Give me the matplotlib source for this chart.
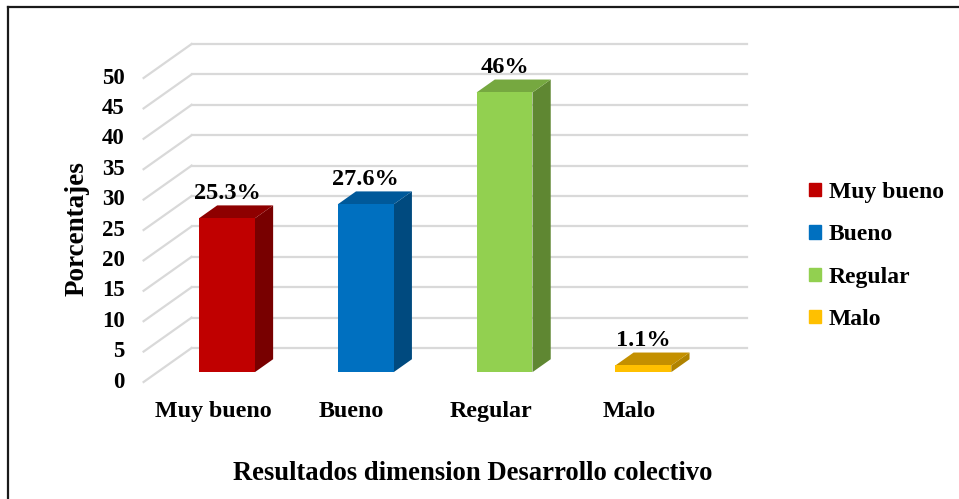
import matplotlib
matplotlib.use('Agg')
import matplotlib.pyplot as plt
import matplotlib.patches as mpatches
from matplotlib.lines import Line2D
import numpy as np

plt.rcParams['font.family'] = ['Liberation Serif', 'DejaVu Serif']
plt.rcParams['font.weight'] = 'bold'

# ── Datos ───────────────────────────────────────────────────────────────────
categorias = ['Muy bueno', 'Bueno', 'Regular', 'Malo']
valores = [25.3, 27.6, 46.0, 1.1]
etiquetas = ['25.3%', '27.6%', '46%', '1.1%']
ticks = np.arange(0, 51, 5)

col_frente = ['#C00000', '#0070C0', '#92D050', '#FFC000']
col_arriba = ['#8E0000', '#00599A', '#76A840', '#C49000']
col_lado = ['#780000', '#004A7F', '#5F8732', '#B08300']

W, H = 959, 499
fig = plt.figure(figsize=(W / 100, H / 100), dpi=100)
ax = fig.add_axes([0, 0, 1, 1])
ax.axis('off')

# escala: categoria i (frente) en px 213 + 138.8*i, valor v en px 382 - 6.08*v
PX_X, PX_Y = 138.8, 6.08
ax.set_xlim(-213 / PX_X, (W - 213) / PX_X)
ax.set_ylim(-(H - 382) / PX_Y, 382 / PX_Y)

# profundidad 3D (z=0 frente, z=1 pared del fondo)
DX, DY = 48 / PX_X, 34 / PX_Y


def proj(x, v, z):
    return x + z * DX, v + z * DY


x0, x1 = -0.5, len(categorias) - 0.5

# ── Pared del fondo y lateral ──────────────────────────────────────────────
grid_c = '#D9D9D9'
for t in ticks:
    a = proj(x0, t, 1)
    b = proj(x1, t, 1)
    ax.plot([a[0], b[0]], [a[1], b[1]], color=grid_c, lw=1.6, zorder=1)
    c = proj(x0, t, 0)
    ax.plot([c[0], a[0]], [c[1], a[1]], color=grid_c, lw=1.6, zorder=1)
    ax.text(c[0] - 0.135, c[1], str(t), ha='right', va='center', fontsize=16.5)

# ── Barras 3D ───────────────────────────────────────────────────────────────
ancho = 0.403
z1, z2 = 0.29, 0.67
for i, v in enumerate(valores):
    l, r = i - ancho / 2, i + ancho / 2
    fl = proj(l, 0, z1); fr = proj(r, 0, z1)
    tl = proj(l, v, z1); tr = proj(r, v, z1)
    bl = proj(l, v, z2); br = proj(r, v, z2); bb = proj(r, 0, z2)
    # lado derecho
    ax.fill([fr[0], bb[0], br[0], tr[0]], [fr[1], bb[1], br[1], tr[1]],
            color=col_lado[i], lw=0, zorder=3)
    # tapa
    ax.fill([tl[0], tr[0], br[0], bl[0]], [tl[1], tr[1], br[1], bl[1]],
            color=col_arriba[i], lw=0, zorder=3)
    # frente
    ax.fill([fl[0], fr[0], tr[0], tl[0]], [fl[1], fr[1], tr[1], tl[1]],
            color=col_frente[i], lw=0, zorder=4)
    # etiqueta de datos
    ex = proj(i, v, z1)[0]
    ey = proj(i, v, z2)[1]
    ax.text(ex, ey + 0.3, etiquetas[i], ha='center', va='bottom', fontsize=17.5, zorder=5)
    # categoria
    ax.text(i, -4.8, categorias[i], ha='center', va='center', fontsize=17.3)

# ── Titulos ────────────────────────────────────────────────────────────────
fig.text(473 / W, 1 - 474 / H, 'Resultados dimension Desarrollo colectivo',
         ha='center', va='center', fontsize=19.2)
fig.text(77 / W, 1 - 229 / H, 'Porcentajes', rotation=90,
         ha='center', va='center', fontsize=19.5)

# ── Leyenda ────────────────────────────────────────────────────────────────
handles = [mpatches.Patch(color=c, label=n) for n, c in zip(categorias, col_frente)]
ax.legend(handles=handles, loc='center left', bbox_to_anchor=(797 / W, 1 - 256 / H),
          bbox_transform=fig.transFigure, frameon=False, fontsize=17,
          handlelength=0.5, handleheight=0.5, handletextpad=0.35, labelspacing=0.9,
          borderpad=0)

# ── Marco ──────────────────────────────────────────────────────────────────
fig.add_artist(Line2D([8 / W, 1], [1 - 7 / H, 1 - 7 / H], color='#1a1a1a', lw=1.6,
                      transform=fig.transFigure))
fig.add_artist(Line2D([8 / W, 8 / W], [0, 1 - 7 / H], color='#1a1a1a', lw=1.6,
                      transform=fig.transFigure))

fig.savefig('out.png', dpi=100)
